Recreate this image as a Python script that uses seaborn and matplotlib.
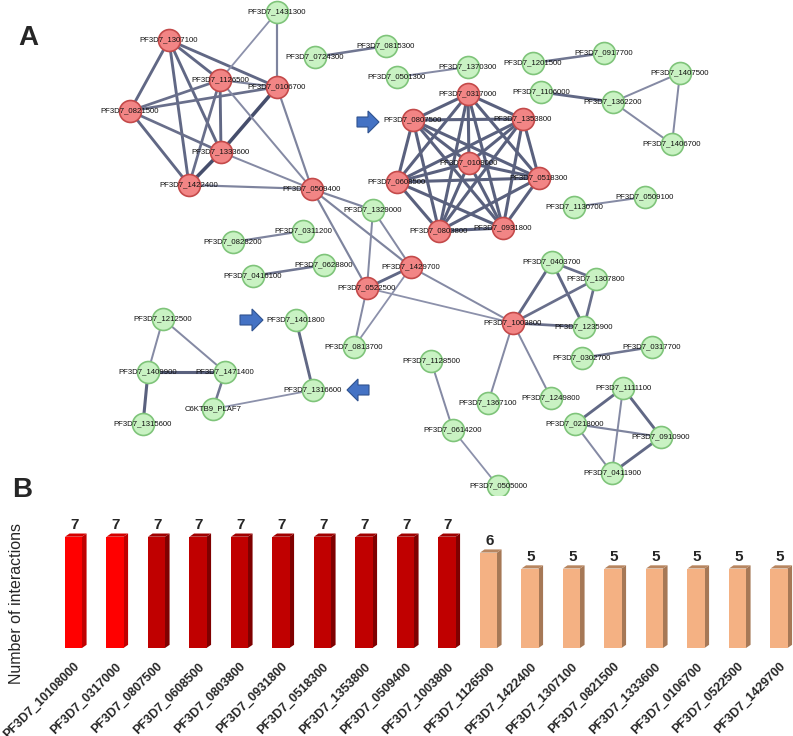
import numpy as np
import pandas as pd
import seaborn as sns
import matplotlib
matplotlib.use("Agg")
import matplotlib.pyplot as plt
from matplotlib.patches import Polygon, FancyArrow

# ---- panel A: interaction network (coordinates) ----
node_names = [
    "PF3D7_1431300", "PF3D7_1307100", "PF3D7_0724300", "PF3D7_1126500", "PF3D7_0106700",
    "PF3D7_0821500", "PF3D7_1333600", "PF3D7_1422400", "PF3D7_0509400", "PF3D7_0815300",
    "PF3D7_0501300", "PF3D7_1370300", "PF3D7_1201500", "PF3D7_0917700", "PF3D7_1407500",
    "PF3D7_1106000", "PF3D7_1362200", "PF3D7_1406700", "PF3D7_0317000", "PF3D7_0807500",
    "PF3D7_1353800", "PF3D7_0108000", "PF3D7_0608500", "PF3D7_0518300", "PF3D7_0803800",
    "PF3D7_0931800", "PF3D7_1130700", "PF3D7_0509100", "PF3D7_1329000", "PF3D7_0828200",
    "PF3D7_0311200", "PF3D7_0416100", "PF3D7_0628800", "PF3D7_1429700", "PF3D7_0522500",
    "PF3D7_1212500", "PF3D7_1401800", "PF3D7_0813700", "PF3D7_1128500", "PF3D7_1409900",
    "PF3D7_1471400", "PF3D7_1316600", "C6KTB9_PLAF7", "PF3D7_1315600", "PF3D7_0614200",
    "PF3D7_0403700", "PF3D7_1307800", "PF3D7_1003800", "PF3D7_1235900", "PF3D7_0302700",
    "PF3D7_0317700", "PF3D7_1367100", "PF3D7_1249800", "PF3D7_1111100", "PF3D7_0218000",
    "PF3D7_0910900", "PF3D7_0411900", "PF3D7_0505000",
]
node_x = [277, 169, 315, 220, 277, 130, 221, 189, 312, 386,
          397, 468, 533, 604, 680, 541, 613, 672, 468, 413,
          523, 469, 397, 539, 439, 503, 574, 645, 373, 233,
          303, 253, 324, 411, 367, 163, 296, 354, 431, 148,
          225, 313, 213, 143, 453, 552, 596, 513, 584, 582,
          652, 488, 551, 623, 575, 661, 612, 498]
node_y = [12, 40, 57, 80, 87, 111, 152, 185, 189, 46,
          77, 67, 63, 53, 73, 92, 102, 144, 94, 120,
          119, 163, 182, 178, 231, 228, 207, 197, 210, 242,
          231, 276, 265, 267, 288, 319, 320, 347, 361, 372,
          372, 390, 409, 424, 430, 262, 279, 323, 327, 358,
          347, 403, 398, 388, 424, 437, 473, 486]
hub_nodes = ["PF3D7_1307100", "PF3D7_1126500", "PF3D7_0106700", "PF3D7_0821500",
             "PF3D7_1333600", "PF3D7_1422400", "PF3D7_0509400", "PF3D7_0317000",
             "PF3D7_0807500", "PF3D7_1353800", "PF3D7_0108000", "PF3D7_0608500",
             "PF3D7_0518300", "PF3D7_0803800", "PF3D7_0931800", "PF3D7_1429700",
             "PF3D7_0522500", "PF3D7_1003800"]

clique = ["PF3D7_0317000", "PF3D7_0807500", "PF3D7_1353800", "PF3D7_0108000",
          "PF3D7_0608500", "PF3D7_0518300", "PF3D7_0803800", "PF3D7_0931800"]
edges = [(a, b, 0.85) for i, a in enumerate(clique) for b in clique[i + 1:]]
edges += [
    ("PF3D7_1307100", "PF3D7_1126500", 0.8), ("PF3D7_1307100", "PF3D7_0106700", 0.8),
    ("PF3D7_1307100", "PF3D7_0821500", 0.8), ("PF3D7_1307100", "PF3D7_1333600", 0.8),
    ("PF3D7_1307100", "PF3D7_1422400", 0.8), ("PF3D7_1126500", "PF3D7_0821500", 0.75),
    ("PF3D7_1126500", "PF3D7_1333600", 0.8), ("PF3D7_1126500", "PF3D7_1422400", 0.75),
    ("PF3D7_1126500", "PF3D7_0106700", 0.6), ("PF3D7_0106700", "PF3D7_0821500", 0.75),
    ("PF3D7_0106700", "PF3D7_1333600", 0.99), ("PF3D7_0821500", "PF3D7_1333600", 0.75),
    ("PF3D7_0821500", "PF3D7_1422400", 0.8), ("PF3D7_1333600", "PF3D7_1422400", 0.99),
    ("PF3D7_1431300", "PF3D7_0106700", 0.6), ("PF3D7_1431300", "PF3D7_1126500", 0.5),
    ("PF3D7_0106700", "PF3D7_0509400", 0.6), ("PF3D7_1126500", "PF3D7_0509400", 0.55),
    ("PF3D7_1333600", "PF3D7_0509400", 0.55), ("PF3D7_1422400", "PF3D7_0509400", 0.6),
    ("PF3D7_0724300", "PF3D7_0815300", 0.7), ("PF3D7_0501300", "PF3D7_1370300", 0.55),
    ("PF3D7_1201500", "PF3D7_0917700", 0.7), ("PF3D7_1106000", "PF3D7_1362200", 0.8),
    ("PF3D7_1362200", "PF3D7_1407500", 0.55), ("PF3D7_1362200", "PF3D7_1406700", 0.55),
    ("PF3D7_1407500", "PF3D7_1406700", 0.55), ("PF3D7_1130700", "PF3D7_0509100", 0.55),
    ("PF3D7_0509400", "PF3D7_1329000", 0.6), ("PF3D7_0509400", "PF3D7_1429700", 0.6),
    ("PF3D7_0509400", "PF3D7_0522500", 0.6), ("PF3D7_1329000", "PF3D7_1429700", 0.55),
    ("PF3D7_1329000", "PF3D7_0522500", 0.55), ("PF3D7_1429700", "PF3D7_0522500", 0.8),
    ("PF3D7_0522500", "PF3D7_0813700", 0.55), ("PF3D7_1429700", "PF3D7_0813700", 0.5),
    ("PF3D7_1429700", "PF3D7_1003800", 0.55), ("PF3D7_0522500", "PF3D7_1003800", 0.5),
    ("PF3D7_0828200", "PF3D7_0311200", 0.6), ("PF3D7_0416100", "PF3D7_0628800", 0.7),
    ("PF3D7_1212500", "PF3D7_1409900", 0.55), ("PF3D7_1212500", "PF3D7_1471400", 0.55),
    ("PF3D7_1409900", "PF3D7_1471400", 0.85), ("PF3D7_1409900", "PF3D7_1315600", 0.85),
    ("PF3D7_1471400", "C6KTB9_PLAF7", 0.7), ("C6KTB9_PLAF7", "PF3D7_1316600", 0.5),
    ("PF3D7_1401800", "PF3D7_1316600", 0.8), ("PF3D7_1128500", "PF3D7_0614200", 0.55),
    ("PF3D7_0614200", "PF3D7_0505000", 0.5), ("PF3D7_0403700", "PF3D7_1307800", 0.75),
    ("PF3D7_0403700", "PF3D7_1235900", 0.8), ("PF3D7_1307800", "PF3D7_1235900", 0.75),
    ("PF3D7_1003800", "PF3D7_0403700", 0.8), ("PF3D7_1003800", "PF3D7_1307800", 0.75),
    ("PF3D7_1003800", "PF3D7_1235900", 0.75), ("PF3D7_1003800", "PF3D7_1367100", 0.55),
    ("PF3D7_1003800", "PF3D7_1249800", 0.55), ("PF3D7_0302700", "PF3D7_0317700", 0.7),
    ("PF3D7_1111100", "PF3D7_0218000", 0.8), ("PF3D7_1111100", "PF3D7_0910900", 0.8),
    ("PF3D7_1111100", "PF3D7_0411900", 0.55), ("PF3D7_0218000", "PF3D7_0910900", 0.6),
    ("PF3D7_0218000", "PF3D7_0411900", 0.55), ("PF3D7_0910900", "PF3D7_0411900", 0.8),
]

# ---- panel B: number of interactions ----
bar_labels = ["PF3D7_10108000", "PF3D7_0317000", "PF3D7_0807500", "PF3D7_0608500",
              "PF3D7_0803800", "PF3D7_0931800", "PF3D7_0518300", "PF3D7_1353800",
              "PF3D7_0509400", "PF3D7_1003800", "PF3D7_1126500", "PF3D7_1422400",
              "PF3D7_1307100", "PF3D7_0821500", "PF3D7_1333600", "PF3D7_0106700",
              "PF3D7_0522500", "PF3D7_1429700"]
bar_values = [7, 7, 7, 7, 7, 7, 7, 7, 7, 7, 6, 5, 5, 5, 5, 5, 5, 5]
front_colors = ["#ff0000"] * 2 + ["#c00000"] * 8 + ["#f4b183"] * 8
side_colors = ["#c00000"] * 2 + ["#7f0000"] * 8 + ["#a67856"] * 8
top_colors = ["#d40000"] * 2 + ["#a00000"] * 8 + ["#b88660"] * 8

sns.set_style("white")
plt.rcParams["font.family"] = ["Liberation Sans", "DejaVu Sans"]

W, H = 793, 736
fig = plt.figure(figsize=(W / 100, H / 100), dpi=100)

# network axes in pixel units
a_h = 495
ax_a = fig.add_axes([0, 1 - a_h / H, 1, a_h / H])

nodes = pd.DataFrame({"name": node_names, "x": node_x, "y": node_y})
nodes["hub"] = nodes["name"].isin(hub_nodes)
pos = {n: (x, y) for n, x, y in zip(node_names, node_x, node_y)}

strong = np.array([0.27, 0.30, 0.42])
weak = np.array([0.55, 0.57, 0.67])
for a, b, s in edges:
    (x0, y0), (x1, y1) = pos[a], pos[b]
    t = (s - 0.5) / 0.5
    col = weak + (strong - weak) * t
    ax_a.plot([x0, x1], [y0, y1], color=col, lw=1.3 + 1.3 * t,
              solid_capstyle="butt", zorder=1)

sns.scatterplot(data=nodes[~nodes["hub"]], x="x", y="y", s=250, color="#c9f2c3",
                edgecolor="#7fc47a", linewidth=1.2, ax=ax_a, zorder=2, legend=False)
sns.scatterplot(data=nodes[nodes["hub"]], x="x", y="y", s=250, color="#f28585",
                edgecolor="#c44a4a", linewidth=1.2, ax=ax_a, zorder=2, legend=False)
ax_a.set_xlim(0, W)
ax_a.set_ylim(a_h, 0)
ax_a.axis("off")

for n, x, y in zip(node_names, node_x, node_y):
    ax_a.text(x, y, n, fontsize=5.6, ha="center", va="center", color="#111111", zorder=3)

for x0, y0, dx in [(357, 122, 22), (240, 320, 23), (369, 390, -22)]:
    ax_a.add_patch(FancyArrow(x0, y0, dx, 0, width=10, head_width=22, head_length=11,
                              length_includes_head=True, facecolor="#4472c4",
                              edgecolor="#2f528f", lw=0.8, zorder=4))

fig.text(28 / W, 1 - 38 / H, "A", fontsize=20, fontweight="bold", ha="center", va="center")
fig.text(22 / W, 1 - 490 / H, "B", fontsize=20, fontweight="bold", ha="center", va="center")

# bar axes
unit_px = 15.9
step_px = 41.5
b_left = 73.5 - step_px / 2
ax_b = fig.add_axes([b_left / W, (H - 648) / H, 18 * step_px / W, 8 * unit_px / H])
df = pd.DataFrame({"gene": bar_labels, "n": bar_values})
sns.barplot(data=df, x="gene", y="n", hue="gene", palette=front_colors, width=0.41,
            legend=False, saturation=1, ax=ax_b, zorder=3)
ax_b.set_xlim(-0.5, 17.5)
ax_b.set_ylim(0, 8)

dx, dy = 0.11, 0.2
for p, sc, tc, v in zip(ax_b.patches, side_colors, top_colors, bar_values):
    x0, w, h = p.get_x(), p.get_width(), p.get_height()
    p.set_edgecolor("none")
    ax_b.add_patch(Polygon([(x0 + w, 0), (x0 + w + dx, dy), (x0 + w + dx, h + dy), (x0 + w, h)],
                           closed=True, facecolor=sc, edgecolor="none", zorder=2))
    ax_b.add_patch(Polygon([(x0, h), (x0 + dx, h + dy), (x0 + w + dx, h + dy), (x0 + w, h)],
                           closed=True, facecolor=tc, edgecolor="none", zorder=2))
    ax_b.text(x0 + w / 2 + 0.02, h + 0.28, str(v), ha="center", va="bottom",
              fontsize=11, fontweight="bold")

ax_b.set_xlabel("")
ax_b.set_ylabel("")
ax_b.set_yticks([])
ax_b.tick_params(axis="x", length=0, pad=9)
ax_b.set_xticks(range(len(bar_labels)))
ax_b.set_xticklabels(bar_labels, rotation=45, ha="right", rotation_mode="anchor",
                     fontsize=9, fontweight="bold")
sns.despine(ax=ax_b, left=True, bottom=True)

fig.text(17 / W, 1 - 604 / H, "Number of interactions", rotation=90, fontsize=11.5,
         ha="center", va="center")

fig.savefig("out.png", dpi=100)
